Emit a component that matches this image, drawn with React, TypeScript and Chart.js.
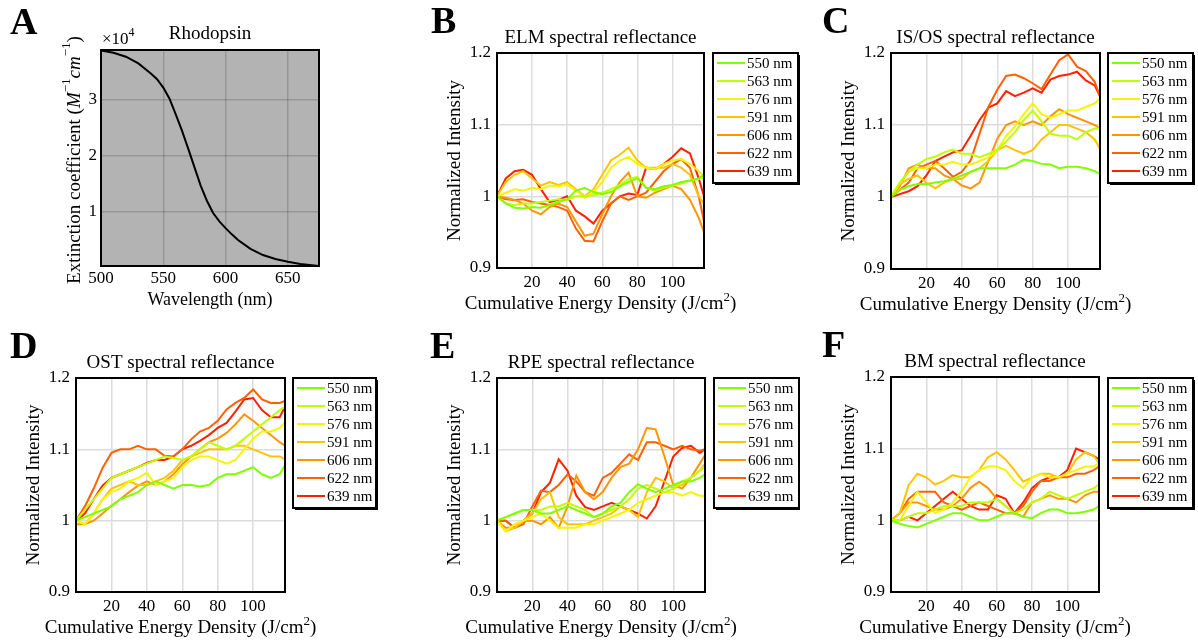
import React, { useEffect, useRef } from "react";
import { Chart, registerables } from "chart.js";

Chart.register(...registerables);

const SERIF = "'Liberation Serif', 'Times New Roman', Times, serif";

// ---------------- Data ----------------
const WAVELENGTH_NM = [500, 510, 520, 530, 540, 545, 550, 555, 560, 565, 570, 575, 580, 585, 590, 595, 600, 605, 610, 620, 630, 640, 650, 660, 675];
const RHODOPSIN_EXT = [3.88, 3.84, 3.77, 3.65, 3.47, 3.37, 3.22, 3.02, 2.74, 2.45, 2.13, 1.8, 1.47, 1.2, 0.98, 0.83, 0.71, 0.6, 0.5, 0.34, 0.23, 0.16, 0.11, 0.07, 0.035];
const WAVELENGTH_TICKS = [500, 550, 600, 650];
const EXTINCTION_TICKS = [1, 2, 3];

const ENERGY = [0, 5, 10, 15, 20, 25, 30, 35, 40, 45, 50, 55, 60, 65, 70, 75, 80, 85, 90, 95, 100, 105, 110, 115, 118];
const ENERGY_TICKS = [20, 40, 60, 80, 100];
const INTENSITY_TICKS = [0.9, 1.0, 1.1, 1.2];
const SERIES_LABELS = ["550 nm", "563 nm", "576 nm", "591 nm", "606 nm", "622 nm", "639 nm"];
const SERIES_COLORS = ["#80ff00", "#c0ff00", "#f5f500", "#ffc400", "#ff9600", "#ff6000", "#ff2000"];

// ELM
const ELM_550 = [1.000, 0.990, 0.984, 0.983, 0.985, 0.984, 0.988, 0.992, 0.996, 1.008, 1.012, 1.006, 1.003, 1.006, 1.014, 1.020, 1.025, 1.012, 1.010, 1.014, 1.016, 1.020, 1.022, 1.025, 1.030];
const ELM_563 = [1.000, 0.990, 0.988, 0.990, 0.990, 0.992, 0.994, 0.996, 0.995, 1.000, 1.000, 1.002, 1.005, 1.010, 1.016, 1.024, 1.027, 1.012, 1.008, 1.012, 1.015, 1.018, 1.022, 1.024, 1.026];
const ELM_576 = [1.000, 1.005, 1.010, 1.008, 1.012, 1.010, 1.015, 1.014, 1.016, 1.008, 0.998, 1.005, 1.020, 1.040, 1.050, 1.055, 1.045, 1.040, 1.038, 1.045, 1.050, 1.052, 1.045, 1.035, 1.028];
const ELM_591 = [1.000, 1.020, 1.030, 1.035, 1.025, 1.015, 1.020, 1.016, 1.020, 1.010, 1.000, 1.010, 1.030, 1.050, 1.058, 1.068, 1.050, 1.040, 1.040, 1.040, 1.045, 1.040, 1.030, 1.000, 0.990];
const ELM_606 = [1.000, 0.998, 0.995, 0.990, 0.980, 0.975, 0.985, 0.990, 0.985, 0.965, 0.945, 0.948, 0.975, 1.000, 1.020, 1.033, 1.000, 0.998, 1.005, 1.010, 1.015, 1.010, 0.995, 0.970, 0.950];
const ELM_622 = [1.000, 0.996, 0.995, 0.996, 0.992, 0.990, 0.988, 0.985, 0.980, 0.955, 0.938, 0.937, 0.965, 0.990, 1.000, 0.995, 1.000, 1.005, 1.020, 1.035, 1.045, 1.052, 1.040, 1.000, 0.965];
const ELM_639 = [1.000, 1.025, 1.035, 1.037, 1.030, 1.010, 0.992, 0.995, 1.000, 0.980, 0.972, 0.962, 0.980, 0.990, 1.000, 1.004, 1.002, 1.040, 1.038, 1.045, 1.055, 1.067, 1.060, 1.025, 1.000];

// IS/OS
const ISOS_550 = [1.000, 1.010, 1.015, 1.018, 1.018, 1.020, 1.022, 1.025, 1.030, 1.035, 1.040, 1.040, 1.040, 1.040, 1.045, 1.052, 1.050, 1.046, 1.045, 1.040, 1.042, 1.042, 1.040, 1.036, 1.032];
const ISOS_563 = [1.000, 1.020, 1.035, 1.045, 1.053, 1.056, 1.062, 1.066, 1.060, 1.060, 1.055, 1.060, 1.066, 1.077, 1.090, 1.107, 1.120, 1.105, 1.088, 1.085, 1.085, 1.080, 1.090, 1.095, 1.095];
const ISOS_576 = [1.000, 1.020, 1.035, 1.040, 1.040, 1.045, 1.045, 1.049, 1.045, 1.045, 1.050, 1.055, 1.065, 1.085, 1.098, 1.115, 1.130, 1.115, 1.110, 1.115, 1.120, 1.120, 1.125, 1.130, 1.137];
const ISOS_591 = [1.000, 1.018, 1.025, 1.030, 1.020, 1.012, 1.020, 1.025, 1.025, 1.035, 1.040, 1.050, 1.065, 1.071, 1.065, 1.060, 1.065, 1.080, 1.090, 1.100, 1.100, 1.095, 1.090, 1.080, 1.067];
const ISOS_606 = [1.000, 1.015, 1.040, 1.045, 1.040, 1.040, 1.030, 1.025, 1.016, 1.012, 1.020, 1.050, 1.081, 1.100, 1.105, 1.100, 1.105, 1.100, 1.112, 1.122, 1.115, 1.110, 1.105, 1.100, 1.095];
const ISOS_622 = [1.000, 1.010, 1.020, 1.040, 1.045, 1.050, 1.040, 1.028, 1.035, 1.051, 1.088, 1.125, 1.149, 1.168, 1.170, 1.165, 1.158, 1.150, 1.170, 1.190, 1.198, 1.181, 1.175, 1.160, 1.140];
const ISOS_639 = [1.000, 1.004, 1.008, 1.015, 1.030, 1.050, 1.056, 1.062, 1.065, 1.085, 1.107, 1.124, 1.130, 1.147, 1.140, 1.145, 1.151, 1.145, 1.163, 1.168, 1.170, 1.174, 1.162, 1.155, 1.140];

// OST
const OST_550 = [1.000, 1.005, 1.010, 1.015, 1.020, 1.030, 1.035, 1.040, 1.050, 1.055, 1.050, 1.045, 1.050, 1.050, 1.048, 1.050, 1.060, 1.065, 1.065, 1.070, 1.075, 1.065, 1.060, 1.065, 1.078];
const OST_563 = [1.000, 1.015, 1.030, 1.045, 1.060, 1.065, 1.070, 1.075, 1.080, 1.085, 1.090, 1.088, 1.085, 1.090, 1.100, 1.110, 1.105, 1.100, 1.105, 1.115, 1.125, 1.135, 1.145, 1.155, 1.160];
const OST_576 = [1.000, 0.995, 1.010, 1.030, 1.040, 1.045, 1.055, 1.060, 1.067, 1.050, 1.055, 1.060, 1.075, 1.085, 1.090, 1.090, 1.085, 1.080, 1.085, 1.100, 1.115, 1.125, 1.125, 1.130, 1.137];
const OST_591 = [1.000, 0.995, 1.010, 1.030, 1.045, 1.050, 1.055, 1.050, 1.050, 1.055, 1.060, 1.070, 1.085, 1.090, 1.095, 1.100, 1.100, 1.100, 1.105, 1.105, 1.100, 1.095, 1.090, 1.090, 1.086];
const OST_606 = [0.995, 0.995, 1.000, 1.010, 1.021, 1.030, 1.040, 1.049, 1.055, 1.050, 1.055, 1.065, 1.079, 1.090, 1.100, 1.110, 1.115, 1.123, 1.135, 1.149, 1.140, 1.130, 1.120, 1.110, 1.105];
const OST_622 = [1.000, 1.020, 1.045, 1.074, 1.095, 1.100, 1.100, 1.105, 1.100, 1.100, 1.091, 1.090, 1.100, 1.114, 1.125, 1.130, 1.140, 1.156, 1.165, 1.172, 1.184, 1.170, 1.165, 1.165, 1.168];
const OST_639 = [1.000, 1.010, 1.030, 1.049, 1.060, 1.065, 1.070, 1.075, 1.081, 1.085, 1.085, 1.090, 1.100, 1.105, 1.112, 1.120, 1.130, 1.137, 1.153, 1.170, 1.172, 1.155, 1.145, 1.145, 1.160];

// RPE
const RPE_550 = [1.000, 1.005, 1.010, 1.015, 1.015, 1.010, 1.010, 1.015, 1.020, 1.015, 1.010, 1.005, 1.010, 1.020, 1.025, 1.040, 1.051, 1.045, 1.040, 1.045, 1.050, 1.055, 1.055, 1.060, 1.065];
const RPE_563 = [1.000, 1.005, 1.010, 1.015, 1.015, 1.015, 1.020, 1.020, 1.025, 1.020, 1.015, 1.005, 1.010, 1.015, 1.020, 1.030, 1.045, 1.050, 1.045, 1.040, 1.045, 1.055, 1.060, 1.070, 1.075];
const RPE_576 = [1.000, 0.985, 0.995, 1.000, 1.005, 1.010, 1.000, 0.990, 0.990, 0.990, 0.995, 0.995, 1.000, 1.005, 1.010, 1.015, 1.025, 1.030, 1.035, 1.040, 1.040, 1.035, 1.040, 1.035, 1.035];
const RPE_591 = [1.000, 0.985, 0.990, 1.000, 1.010, 1.030, 1.040, 1.005, 0.995, 0.995, 0.995, 1.000, 1.005, 1.010, 1.020, 1.015, 1.005, 1.040, 1.060, 1.055, 1.045, 1.050, 1.060, 1.070, 1.080];
const RPE_606 = [1.000, 0.990, 0.990, 1.000, 1.000, 0.995, 1.005, 0.990, 1.020, 1.063, 1.040, 1.030, 1.040, 1.060, 1.075, 1.080, 1.100, 1.130, 1.128, 1.090, 1.050, 1.045, 1.060, 1.080, 1.092];
const RPE_622 = [1.000, 1.000, 0.990, 0.995, 1.020, 1.042, 1.040, 1.050, 1.065, 1.055, 1.040, 1.035, 1.060, 1.067, 1.080, 1.093, 1.085, 1.110, 1.110, 1.105, 1.100, 1.105, 1.100, 1.098, 1.100];
const RPE_639 = [1.000, 1.000, 0.990, 1.000, 1.010, 1.040, 1.053, 1.086, 1.070, 1.035, 1.019, 1.015, 1.020, 1.025, 1.020, 1.015, 1.010, 1.003, 1.020, 1.055, 1.090, 1.102, 1.105, 1.095, 1.100];

// BM
const BM_550 = [1.000, 0.995, 0.992, 0.990, 0.995, 1.000, 1.005, 1.010, 1.010, 1.005, 1.000, 1.000, 1.005, 1.010, 1.010, 1.005, 1.003, 1.010, 1.015, 1.015, 1.010, 1.010, 1.012, 1.015, 1.020];
const BM_563 = [1.000, 1.000, 1.005, 1.010, 1.010, 1.015, 1.020, 1.020, 1.020, 1.025, 1.025, 1.025, 1.030, 1.020, 1.010, 1.015, 1.025, 1.030, 1.040, 1.035, 1.030, 1.035, 1.040, 1.045, 1.050];
const BM_576 = [1.000, 1.000, 1.020, 1.040, 1.025, 1.010, 1.015, 1.025, 1.040, 1.060, 1.070, 1.075, 1.075, 1.070, 1.055, 1.045, 1.060, 1.065, 1.060, 1.060, 1.065, 1.070, 1.075, 1.075, 1.080];
const BM_591 = [1.000, 1.010, 1.049, 1.065, 1.060, 1.050, 1.055, 1.063, 1.060, 1.060, 1.070, 1.088, 1.095, 1.085, 1.070, 1.054, 1.060, 1.065, 1.065, 1.060, 1.065, 1.085, 1.095, 1.090, 1.080];
const BM_606 = [1.000, 1.010, 1.025, 1.025, 1.020, 1.015, 1.015, 1.020, 1.030, 1.045, 1.054, 1.045, 1.030, 1.020, 1.010, 1.005, 1.025, 1.030, 1.035, 1.030, 1.030, 1.025, 1.035, 1.040, 1.040];
const BM_622 = [1.000, 1.010, 1.030, 1.040, 1.040, 1.040, 1.025, 1.020, 1.015, 1.020, 1.025, 1.020, 1.015, 1.010, 1.010, 1.020, 1.040, 1.055, 1.055, 1.060, 1.060, 1.065, 1.065, 1.070, 1.075];
const BM_639 = [1.000, 1.000, 1.005, 1.000, 1.010, 1.020, 1.030, 1.040, 1.030, 1.020, 1.015, 1.015, 1.035, 1.030, 1.010, 1.025, 1.045, 1.055, 1.060, 1.060, 1.070, 1.100, 1.095, 1.090, 1.085];

// ---------------- Drawing helpers ----------------
type Seg = { t: string; size: number; italic?: boolean; bold?: boolean; dy?: number };
type TextItem = { segs: Seg[]; x: number; y: number; align?: "left" | "center"; rotate?: boolean; baseline?: CanvasTextBaseline };

function drawRich(ctx: CanvasRenderingContext2D, item: TextItem, ox: number, oy: number) {
  ctx.save();
  ctx.translate(item.x - ox, item.y - oy);
  if (item.rotate) ctx.rotate(-Math.PI / 2);
  const fonts = item.segs.map((s) => `${s.italic ? "italic " : ""}${s.bold ? "bold " : ""}${s.size}px ${SERIF}`);
  const widths = item.segs.map((s, i) => {
    ctx.font = fonts[i];
    return ctx.measureText(s.t).width;
  });
  const total = widths.reduce((a, b) => a + b, 0);
  let cx = item.align === "center" ? -total / 2 : 0;
  ctx.textAlign = "left";
  ctx.textBaseline = item.baseline || "alphabetic";
  ctx.fillStyle = "#000";
  item.segs.forEach((s, i) => {
    ctx.font = fonts[i];
    ctx.fillText(s.t, cx, s.dy || 0);
    cx += widths[i];
  });
  ctx.restore();
}

interface Series { label: string; color: string; values: number[]; width: number }
interface Spec {
  box: [number, number, number, number];
  plot: [number, number, number, number];
  xs: number[];
  series: Series[];
  xMin: number; xMax: number; yMin: number; yMax: number;
  xTicks: number[]; yTicks: number[];
  tickSize: number; xTickPad: number; yTickPad: number;
  gridColor: string;
  bg?: string;
  legend?: [number, number, number, number];
  texts: TextItem[];
}

function ChartPanel({ spec }: { spec: Spec }) {
  const ref = useRef<HTMLCanvasElement | null>(null);
  const [bx, by, bw, bh] = spec.box;
  useEffect(() => {
    const canvas = ref.current;
    if (!canvas) return;
    const [pl, pt, pr, pb] = spec.plot;
    const YW = 40, XH = 30;
    const padding = { left: pl - bx - YW, top: pt - by, right: bx + bw - pr, bottom: by + bh - pb - XH };
    const fmt = (v: number) => (Math.abs(v - Math.round(v)) < 1e-9 ? String(Math.round(v)) : v.toFixed(1));
    const deco = {
      id: "deco",
      beforeDraw(chart: any) {
        const { ctx, chartArea: a } = chart;
        ctx.save();
        ctx.fillStyle = "#fff";
        ctx.fillRect(0, 0, chart.width, chart.height);
        if (spec.bg) {
          ctx.fillStyle = spec.bg;
          ctx.fillRect(a.left, a.top, a.right - a.left, a.bottom - a.top);
        }
        ctx.restore();
      },
      afterDraw(chart: any) {
        const { ctx, chartArea: a } = chart;
        ctx.save();
        ctx.strokeStyle = "#000";
        ctx.lineWidth = 2;
        ctx.strokeRect(a.left, a.top, a.right - a.left, a.bottom - a.top);
        if (spec.legend) {
          const [lx0, ly0, lw, lh] = spec.legend;
          const lx = lx0 - bx, ly = ly0 - by;
          ctx.fillStyle = "#000";
          ctx.fillRect(lx + 2, ly + 2, lw, lh);
          ctx.fillStyle = "#fff";
          ctx.fillRect(lx, ly, lw, lh);
          ctx.strokeStyle = "#000";
          ctx.lineWidth = 2;
          ctx.strokeRect(lx, ly, lw, lh);
          spec.series.forEach((s, i) => {
            const yy = ly + 10 + i * 18;
            ctx.strokeStyle = s.color;
            ctx.lineWidth = 2;
            ctx.beginPath();
            ctx.moveTo(lx + 4, yy);
            ctx.lineTo(lx + 32, yy);
            ctx.stroke();
            ctx.fillStyle = "#000";
            ctx.font = `15px ${SERIF}`;
            ctx.textAlign = "left";
            ctx.textBaseline = "middle";
            ctx.fillText(s.label, lx + 34, yy + 1);
          });
        }
        spec.texts.forEach((t) => drawRich(ctx, t, bx, by));
        ctx.restore();
      },
    };
    const tickFont = { family: SERIF, size: spec.tickSize };
    const chart = new Chart(canvas, {
      type: "line",
      data: {
        datasets: spec.series.map((s) => ({
          label: s.label,
          data: spec.xs.map((x, i) => ({ x, y: s.values[i] })),
          borderColor: s.color,
          backgroundColor: s.color,
          borderWidth: s.width,
          pointRadius: 0,
          tension: 0,
          fill: false,
        })),
      },
      options: {
        animation: false,
        responsive: false,
        maintainAspectRatio: false,
        layout: { padding },
        plugins: { legend: { display: false }, tooltip: { enabled: false }, title: { display: false } },
        scales: {
          x: {
            type: "linear",
            min: spec.xMin,
            max: spec.xMax,
            afterBuildTicks: (s: any) => { s.ticks = spec.xTicks.map((v) => ({ value: v })); },
            afterFit: (s: any) => { s.height = XH; },
            grid: { color: spec.gridColor, lineWidth: 1.5, drawTicks: false },
            border: { display: false },
            ticks: { font: tickFont, color: "#000", padding: spec.xTickPad, maxRotation: 0, autoSkip: false, callback: (v: any) => fmt(Number(v)) },
          },
          y: {
            type: "linear",
            min: spec.yMin,
            max: spec.yMax,
            afterBuildTicks: (s: any) => { s.ticks = spec.yTicks.map((v) => ({ value: v })); },
            afterFit: (s: any) => { s.width = YW; },
            grid: { color: spec.gridColor, lineWidth: 1.5, drawTicks: false },
            border: { display: false },
            ticks: { font: tickFont, color: "#000", padding: spec.yTickPad, autoSkip: false, callback: (v: any) => fmt(Number(v)) },
          },
        },
      },
      plugins: [deco],
    } as any);
    return () => chart.destroy();
  }, [spec]);
  return (
    <canvas
      ref={ref}
      width={bw}
      height={bh}
      style={{ position: "absolute", left: bx, top: by, width: bw, height: bh }}
    />
  );
}

// ---------------- Panel specifications ----------------
function reflectanceSpec(
  box: [number, number, number, number],
  plot: [number, number, number, number],
  legend: [number, number, number, number],
  letter: string,
  letterX: number,
  title: string,
  values: number[][]
): Spec {
  const [pl, pt, pr, pb] = plot;
  const cx = (pl + pr) / 2;
  return {
    box,
    plot,
    xs: ENERGY,
    series: values.map((v, i) => ({ label: SERIES_LABELS[i], color: SERIES_COLORS[i], values: v, width: 2 })),
    xMin: 0, xMax: 118, yMin: 0.9, yMax: 1.2,
    xTicks: ENERGY_TICKS, yTicks: INTENSITY_TICKS,
    tickSize: 17, xTickPad: 4, yTickPad: 6,
    gridColor: "#dcdcdc",
    legend,
    texts: [
      { segs: [{ t: letter, size: 38, bold: true }], x: letterX, y: pt - 20 },
      { segs: [{ t: title, size: 19 }], x: cx, y: pt - 10, align: "center" },
      { segs: [{ t: "Normalized Intensity", size: 19 }], x: pl - 42, y: (pt + pb) / 2, align: "center", rotate: true, baseline: "middle" },
      {
        segs: [{ t: "Cumulative Energy Density (J/cm", size: 19 }, { t: "2", size: 13, dy: -8 }, { t: ")", size: 19 }],
        x: cx, y: pb + 41, align: "center",
      },
    ],
  };
}

const SPEC_A: Spec = {
  box: [0, 0, 400, 320],
  plot: [101, 50, 319, 266],
  xs: WAVELENGTH_NM,
  series: [{ label: "Rhodopsin", color: "#000", values: RHODOPSIN_EXT, width: 2 }],
  xMin: 500, xMax: 675, yMin: 0.035, yMax: 3.89,
  xTicks: WAVELENGTH_TICKS, yTicks: EXTINCTION_TICKS,
  tickSize: 17, xTickPad: 2, yTickPad: 4,
  gridColor: "rgba(0,0,0,0.16)",
  bg: "#b3b3b3",
  texts: [
    { segs: [{ t: "A", size: 38, bold: true }], x: 10, y: 34 },
    { segs: [{ t: "Rhodopsin", size: 19 }], x: 210, y: 39, align: "center" },
    { segs: [{ t: "×10", size: 17 }, { t: "4", size: 12, dy: -8 }], x: 102, y: 44 },
    {
      segs: [
        { t: "Extinction coefficient (", size: 19 },
        { t: "M", size: 19, italic: true },
        { t: "−1", size: 13, dy: -8 },
        { t: "cm", size: 19, italic: true },
        { t: "−1", size: 13, dy: -8 },
        { t: ")", size: 19 },
      ],
      x: 75, y: 160, align: "center", rotate: true, baseline: "middle",
    },
    { segs: [{ t: "Wavelength (nm)", size: 18 }], x: 210, y: 305, align: "center" },
  ],
};

const SPEC_B = reflectanceSpec([400, 0, 400, 320], [497, 53, 704, 268], [713, 53, 85, 130], "B", 431, "ELM spectral reflectance",
  [ELM_550, ELM_563, ELM_576, ELM_591, ELM_606, ELM_622, ELM_639]);
const SPEC_C = reflectanceSpec([800, 0, 398, 320], [891, 53, 1100, 269], [1108, 53, 85, 130], "C", 822, "IS/OS spectral reflectance",
  [ISOS_550, ISOS_563, ISOS_576, ISOS_591, ISOS_606, ISOS_622, ISOS_639]);
const SPEC_D = reflectanceSpec([0, 320, 400, 323], [76, 378, 285, 592], [293, 378, 83, 130], "D", 10, "OST spectral reflectance",
  [OST_550, OST_563, OST_576, OST_591, OST_606, OST_622, OST_639]);
const SPEC_E = reflectanceSpec([400, 320, 400, 323], [497, 378, 705, 592], [714, 378, 85, 130], "E", 430, "RPE spectral reflectance",
  [RPE_550, RPE_563, RPE_576, RPE_591, RPE_606, RPE_622, RPE_639]);
const SPEC_F = reflectanceSpec([800, 320, 398, 323], [891, 377, 1099, 592], [1108, 378, 85, 130], "F", 822, "BM spectral reflectance",
  [BM_550, BM_563, BM_576, BM_591, BM_606, BM_622, BM_639]);

const SPECS = [SPEC_A, SPEC_B, SPEC_C, SPEC_D, SPEC_E, SPEC_F];

export default function App() {
  return (
    <div style={{ position: "fixed", left: 0, top: 0, width: 1198, height: 643, background: "#fff", overflow: "hidden" }}>
      {SPECS.map((s, i) => (
        <ChartPanel key={i} spec={s} />
      ))}
    </div>
  );
}
